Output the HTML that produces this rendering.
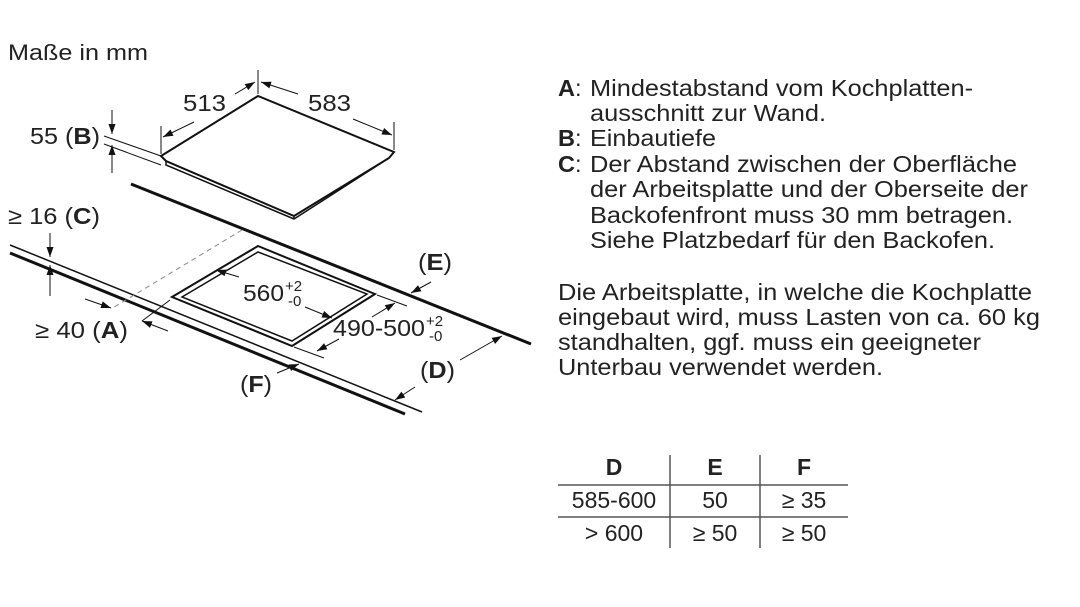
<!DOCTYPE html>
<html><head><meta charset="utf-8"><style>
html,body{margin:0;padding:0;background:#fff;}
svg{display:block;font-family:"Liberation Sans",Arial,sans-serif;}
</style></head><body>
<svg width="1080" height="607" viewBox="0 0 1080 607" xmlns="http://www.w3.org/2000/svg">
<defs>
<marker id="ar" viewBox="0 0 10 10" refX="10" refY="5" markerWidth="10" markerHeight="10" orient="auto" markerUnits="userSpaceOnUse">
<path d="M0,1.5 L10,5 L0,8.5 z" fill="#111"/></marker>
</defs>
<rect width="1080" height="607" fill="#fff"/>
<g fill="#222" font-size="23">
<text x="8" y="60" font-size="22" textLength="140" lengthAdjust="spacingAndGlyphs">Maße in mm</text>
<text x="183" y="111" textLength="43" lengthAdjust="spacingAndGlyphs">513</text>
<text x="308" y="111" textLength="43" lengthAdjust="spacingAndGlyphs">583</text>
<text x="30" y="144" textLength="70" lengthAdjust="spacingAndGlyphs">55 (<tspan font-weight="bold">B</tspan>)</text>
<text x="8" y="224" textLength="92" lengthAdjust="spacingAndGlyphs">≥ 16 (<tspan font-weight="bold">C</tspan>)</text>
<text x="418" y="270" textLength="34" lengthAdjust="spacingAndGlyphs">(<tspan font-weight="bold">E</tspan>)</text>
<text x="243" y="301" textLength="41" lengthAdjust="spacingAndGlyphs">560</text>
<text x="285" y="291" font-size="15">+2</text>
<text x="288" y="306" font-size="15">-0</text>
<text x="333" y="336" textLength="92" lengthAdjust="spacingAndGlyphs">490-500</text>
<text x="426" y="326" font-size="15">+2</text>
<text x="429" y="341" font-size="15">-0</text>
<text x="35" y="338" textLength="93" lengthAdjust="spacingAndGlyphs">≥ 40 (<tspan font-weight="bold">A</tspan>)</text>
<text x="240" y="392" textLength="32" lengthAdjust="spacingAndGlyphs">(<tspan font-weight="bold">F</tspan>)</text>
<text x="420" y="378" textLength="35" lengthAdjust="spacingAndGlyphs">(<tspan font-weight="bold">D</tspan>)</text>
</g>
<g stroke="#111" fill="none">
<!-- hob -->
<path d="M161,156 L258,96 L394,152 L389,158 L294,216 L166,161 Z" fill="#fff" stroke-width="2"/>
<path d="M161,156 L166,161 L166,165 L294,219 L389,158" stroke-width="1.5"/>
<path d="M294,216 L294,219" stroke-width="1.5"/>
<!-- back line -->
<path d="M131,184 L531,344" stroke-width="3"/>
<!-- front lines -->
<path d="M10,245 L422,412" stroke-width="1.5"/>
<path d="M10,253 L405,414" stroke-width="3"/>
<!-- cutout -->
<path d="M258,246 L375,294 L292,346 L172,297 Z" stroke-width="2"/>
<path d="M258,252 L367,294 L292,341 L182,297 Z" stroke-width="1.5"/>
<!-- dashed -->
<path d="M242,230 L111,309" stroke="#888" stroke-width="1" stroke-dasharray="5,4"/>
<!-- dims 513/583 -->
<path d="M258,70 L258,94" stroke-width="1"/>
<path d="M161,126 L161,154" stroke-width="1"/>
<path d="M394,122 L394,150" stroke-width="1"/>
<path d="M194,122 L163,137" stroke-width="1" marker-end="url(#ar)"/>
<path d="M235,94 L255,82" stroke-width="1" marker-end="url(#ar)"/>
<path d="M298,94 L261,82" stroke-width="1" marker-end="url(#ar)"/>
<path d="M353,119 L392,135" stroke-width="1" marker-end="url(#ar)"/>
<!-- 55 B -->
<path d="M104,136 L161,156" stroke-width="1"/>
<path d="M104,144 L161,165" stroke-width="1"/>
<path d="M112,110 L112,134" stroke-width="1" marker-end="url(#ar)"/>
<path d="M112,173 L112,145" stroke-width="1" marker-end="url(#ar)"/>
<!-- 16 C -->
<path d="M50,233 L50,257" stroke-width="1" marker-end="url(#ar)"/>
<path d="M50,296 L50,265" stroke-width="1" marker-end="url(#ar)"/>
<!-- 40 A -->
<path d="M85,299 L111,308" stroke-width="1" marker-end="url(#ar)"/>
<path d="M168,331 L142,321" stroke-width="1" marker-end="url(#ar)"/>
<path d="M142,321 L170,300" stroke-width="1"/>
<!-- 560 -->
<path d="M239,277 L216,270" stroke-width="1" marker-end="url(#ar)"/>
<path d="M305,307 L332,318" stroke-width="1" marker-end="url(#ar)"/>
<!-- 490 -->
<path d="M377,295 L407,306" stroke-width="1"/>
<path d="M294,347 L324,358" stroke-width="1"/>
<path d="M372,317 L395,303" stroke-width="1" marker-end="url(#ar)"/>
<path d="M339,339 L317,351" stroke-width="1" marker-end="url(#ar)"/>
<!-- E -->
<path d="M431,282 L411,293" stroke-width="1" marker-end="url(#ar)"/>
<!-- D -->
<path d="M460,360 L502,336" stroke-width="1" marker-end="url(#ar)"/>
<path d="M415,387 L395,400" stroke-width="1" marker-end="url(#ar)"/>
<!-- F -->
<path d="M277,373 L299,364" stroke-width="1" marker-end="url(#ar)"/>
</g>
<g fill="#222" font-size="23.5">
<text x="558" y="96"><tspan font-weight="bold">A</tspan>:</text><text x="590" y="96" textLength="383" lengthAdjust="spacingAndGlyphs">Mindestabstand vom Kochplatten-</text>
<text x="590" y="121" textLength="236" lengthAdjust="spacingAndGlyphs">ausschnitt zur Wand.</text>
<text x="558" y="146"><tspan font-weight="bold">B</tspan>:</text><text x="590" y="146" textLength="126" lengthAdjust="spacingAndGlyphs">Einbautiefe</text>
<text x="558" y="172"><tspan font-weight="bold">C</tspan>:</text><text x="590" y="172" textLength="427" lengthAdjust="spacingAndGlyphs">Der Abstand zwischen der Oberfläche</text>
<text x="590" y="197" textLength="438" lengthAdjust="spacingAndGlyphs">der Arbeitsplatte und der Oberseite der</text>
<text x="590" y="223" textLength="423" lengthAdjust="spacingAndGlyphs">Backofenfront muss 30 mm betragen.</text>
<text x="590" y="248" textLength="405" lengthAdjust="spacingAndGlyphs">Siehe Platzbedarf für den Backofen.</text>
<text x="558" y="300" textLength="474" lengthAdjust="spacingAndGlyphs">Die Arbeitsplatte, in welche die Kochplatte</text>
<text x="558" y="325" textLength="482" lengthAdjust="spacingAndGlyphs">eingebaut wird, muss Lasten von ca. 60 kg</text>
<text x="558" y="350" textLength="423" lengthAdjust="spacingAndGlyphs">standhalten, ggf. muss ein geeigneter</text>
<text x="558" y="375" textLength="325" lengthAdjust="spacingAndGlyphs">Unterbau verwendet werden.</text>
</g>
<g fill="#222" font-size="23" text-anchor="middle">
<text x="614" y="475" font-weight="bold">D</text>
<text x="715" y="475" font-weight="bold">E</text>
<text x="804" y="475" font-weight="bold">F</text>
<text x="614" y="508">585-600</text>
<text x="715" y="508">50</text>
<text x="804" y="508">≥ 35</text>
<text x="614" y="541">&gt; 600</text>
<text x="715" y="541">≥ 50</text>
<text x="804" y="541">≥ 50</text>
</g>
<g stroke="#555" stroke-width="1.5">
<line x1="558" y1="485" x2="848" y2="485"/>
<line x1="558" y1="517" x2="848" y2="517"/>
<line x1="670" y1="455" x2="670" y2="548"/>
<line x1="760" y1="455" x2="760" y2="548"/>
</g>
</svg>
</body></html>
